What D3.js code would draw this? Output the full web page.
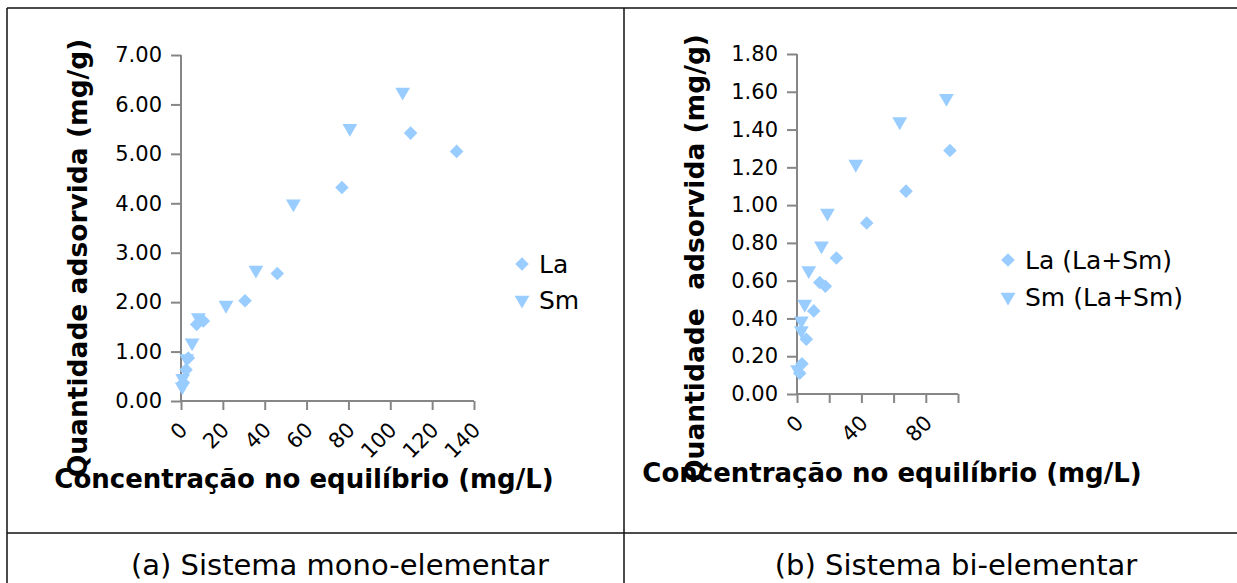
<!DOCTYPE html>
<html><head><meta charset="utf-8">
<script src="https://cdn.jsdelivr.net/npm/d3@7"></script>
<style>
html,body{margin:0;padding:0;background:#fff;}
svg{display:block;font-family:"DejaVu Sans",sans-serif;}
</style></head>
<body>
<svg id="c" width="1237" height="583"></svg>
<script>
// ---- Panel (a): Sistema mono-elementar ----
const xTicksA = [0, 20, 40, 60, 80, 100, 120, 140];
const yTicksA = [0, 1, 2, 3, 4, 5, 6, 7];
const laA_x = [1.1, 2.4, 3.5, 7.5, 10.7, 30.6, 46.0, 76.9, 109.7, 131.7];
const laA_y = [0.37, 0.63, 0.87, 1.55, 1.62, 2.03, 2.58, 4.32, 5.42, 5.05];
const smA_x = [0.6, 0.8, 2.7, 5.3, 8.3, 21.5, 35.8, 53.7, 80.7, 105.9];
const smA_y = [0.29, 0.46, 0.86, 1.18, 1.69, 1.94, 2.65, 3.99, 5.52, 6.25];
const legendA = ["La", "Sm"];
const captionA = "(a) Sistema mono-elementar";

// ---- Panel (b): Sistema bi-elementar ----
const xTicksB = [0, 20, 40, 60, 80, 100];
const xLabelsB = [0, 40, 80];
const yTicksB = [0, 0.2, 0.4, 0.6, 0.8, 1.0, 1.2, 1.4, 1.6, 1.8];
const laB_x = [1.7, 3.1, 5.8, 10.4, 14.1, 17.6, 24.5, 43.3, 67.7, 95.0];
const laB_y = [0.11, 0.16, 0.29, 0.44, 0.59, 0.57, 0.72, 0.905, 1.074, 1.289];
const smB_x = [0.4, 2.7, 2.7, 4.8, 7.3, 15.2, 18.9, 36.5, 63.8, 92.8];
const smB_y = [0.13, 0.336, 0.388, 0.476, 0.654, 0.785, 0.958, 1.217, 1.442, 1.566];
const legendB = ["La (La+Sm)", "Sm (La+Sm)"];
const captionB = "(b) Sistema bi-elementar";

const xTitle = "Concentração no equilíbrio (mg/L)";
const yTitleA = "Quantidade adsorvida (mg/g)";
const yTitleB = "Quantidade\u00a0\u00a0adsorvida (mg/g)";

const svg = d3.select("#c");
const COL = "#99ccff", AX = "#868686";

// frame
const frame = svg.append("g").attr("stroke", "#111").attr("stroke-width", 1.5);
frame.append("line").attr("x1", 7).attr("x2", 1237).attr("y1", 8).attr("y2", 8);
frame.append("line").attr("x1", 7).attr("x2", 7).attr("y1", 8).attr("y2", 583);
frame.append("line").attr("x1", 624).attr("x2", 624).attr("y1", 8).attr("y2", 583);
frame.append("line").attr("x1", 7).attr("x2", 1237).attr("y1", 533).attr("y2", 533);

const diamond = d3.symbol().type(d3.symbolSquare).size(92)();
const tri = d3.symbol().type(d3.symbolTriangle).size(95)();

function panel(o) {
  const x = d3.scaleLinear().domain(o.xd).range(o.xr);
  const y = d3.scaleLinear().domain(o.yd).range(o.yr);
  const g = svg.append("g");
  // y axis
  const ya = d3.axisLeft(y).tickValues(o.yTicks).tickSize(10).tickPadding(9).tickFormat(d3.format(".2f"));
  const yg = g.append("g").attr("transform", `translate(${o.xr[0]},0)`).call(ya);
  // x axis
  const xa = d3.axisBottom(x).tickValues(o.xTicks).tickSize(9)
    .tickFormat(d => (o.xLabels ? (o.xLabels.includes(d) ? d : "") : d));
  const xg = g.append("g").attr("transform", `translate(0,${o.yr[0]})`).call(xa);
  [yg, xg].forEach(a => {
    a.select(".domain").attr("stroke", AX).attr("stroke-width", 2);
    a.selectAll(".tick line").attr("stroke", AX).attr("stroke-width", 2);
    a.selectAll("text").attr("fill", "#000").attr("font-size", 21).attr("font-family", "DejaVu Sans");
  });
  yg.select(".domain").attr("d", `M-0,${o.yr[0]}V${o.yr[1]}`);
  xg.select(".domain").attr("d", `M${o.xr[0]},0H${o.xr[1]}`);
  xg.selectAll(".tick text")
    .attr("text-anchor", "end").attr("dy", "0.35em").attr("y", 0)
    .attr("transform", "translate(2,25) rotate(-45)");
  // points
  const pts = g.append("g");
  pts.selectAll("path.la").data(d3.zip(o.la_x, o.la_y)).join("path")
    .attr("d", diamond).attr("fill", COL)
    .attr("transform", d => `translate(${x(d[0])},${y(d[1])}) rotate(45)`);
  pts.selectAll("path.sm").data(d3.zip(o.sm_x, o.sm_y)).join("path")
    .attr("d", tri).attr("fill", COL)
    .attr("transform", d => `translate(${x(d[0])},${y(d[1])}) rotate(180)`);
  // titles
  g.append("text").text(xTitle).attr("x", o.xtX).attr("y", o.xtY)
    .attr("font-weight", "bold").attr("font-size", 26).attr("text-anchor", "middle");
  g.append("text").text(o.yTitle)
    .attr("transform", `translate(${o.ytX},${o.ytY}) rotate(-90)`)
    .attr("font-weight", "bold").attr("font-size", 26.5).attr("text-anchor", "middle");
  // legend
  const lg = g.append("g");
  lg.append("path").attr("d", diamond).attr("fill", COL)
    .attr("transform", `translate(${o.lgX},${o.lgY[0]}) rotate(45)`);
  lg.append("path").attr("d", tri).attr("fill", COL)
    .attr("transform", `translate(${o.lgX},${o.lgY[1]}) rotate(180)`);
  o.legend.forEach((t, i) => lg.append("text").text(t).attr("x", o.lgX + 17).attr("y", o.lgY[i])
    .attr("dy", "0.36em").attr("font-size", 25));
  // caption
  g.append("text").text(o.caption).attr("x", o.capX).attr("y", 575)
    .attr("font-size", 29).attr("text-anchor", "middle");
}

panel({
  xd: [0, 140], xr: [181, 474], yd: [0, 7], yr: [401, 55],
  xTicks: xTicksA, yTicks: yTicksA,
  la_x: laA_x, la_y: laA_y, sm_x: smA_x, sm_y: smA_y,
  xtX: 304, xtY: 488, ytX: 87, ytY: 258, yTitle: yTitleA,
  lgX: 522, lgY: [264, 300], legend: legendA,
  capX: 340, caption: captionA
});
panel({
  xd: [0, 100], xr: [797, 958], yd: [0, 1.8], yr: [394, 54],
  xTicks: xTicksB, xLabels: xLabelsB, yTicks: yTicksB,
  la_x: laB_x, la_y: laB_y, sm_x: smB_x, sm_y: smB_y,
  xtX: 892, xtY: 482, ytX: 704, ytY: 258, yTitle: yTitleB,
  lgX: 1008, lgY: [260, 297], legend: legendB,
  capX: 956, caption: captionB
});
</script>
</body></html>
